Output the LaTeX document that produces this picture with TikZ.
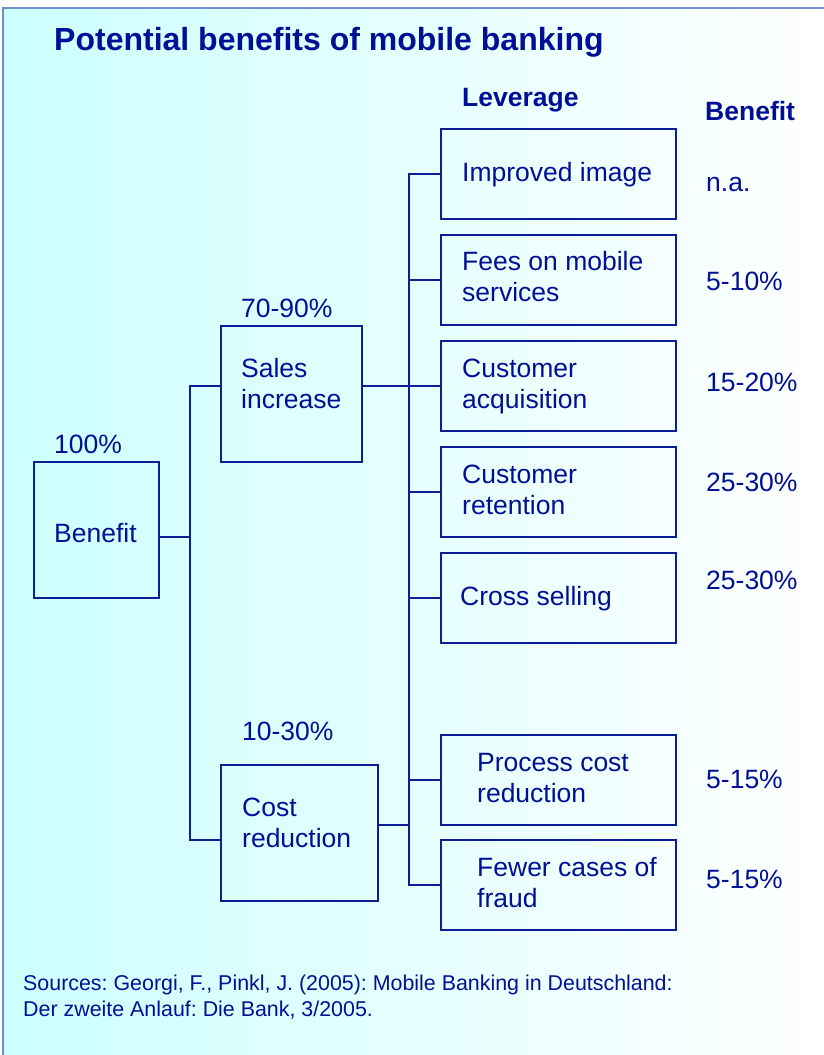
\documentclass[tikz,border=0pt]{standalone}
\usepackage{fontspec}
\setmainfont{Liberation Sans}
\frenchspacing
\definecolor{txtblue}{RGB}{0,16,150}
\definecolor{boxblue}{RGB}{12,30,150}
\definecolor{framecol}{RGB}{112,144,204}
\definecolor{bgcyan}{RGB}{204,255,255}
\newcommand\twol[2]{\begin{tabular}[t]{@{}l@{}}#1\\#2\end{tabular}}
\tikzset{
  box/.style={draw=boxblue, line width=2.2pt, inner sep=0pt, minimum height=#1},
  box/.default=90pt,
  txt/.style={anchor=base west, inner sep=0pt, text=txtblue, font=\fontsize{26.5}{31.5}\selectfont},
  hdr/.style={txt, font=\fontsize{26.5}{31.5}\selectfont\bfseries},
  conn/.style={draw=boxblue, line width=2.2pt, line join=miter}
}
\begin{document}
\begin{tikzpicture}[x=1pt,y=-1pt]
\useasboundingbox (0,0) rectangle (824,1055);
\fill[white] (0,0) rectangle (824,1055);
\shade[left color=bgcyan, right color=white] (3,8) rectangle (824,1055);
\draw[framecol, line width=2pt] (3,1055) -- (3,8) -- (824,8);

% title and headers
\node[txt, font=\fontsize{32}{38}\selectfont\bfseries] (title) at (54,50) {Potential benefits of mobile banking};
\node[hdr] (hlev) at (462,106) {Leverage};
\node[hdr] (hben) at (705,120) {Benefit};

% boxes
\node[box=136pt, minimum width=125pt] (benefit) at (96.5,530) {};
\node[box=136pt, minimum width=141pt] (sales) at (291.5,394) {};
\node[box=136pt, minimum width=157pt] (cost) at (299.5,833) {};
\node[box, minimum width=235pt] (image) at (558.5,174) {};
\node[box, minimum width=235pt] (fees) at (558.5,280) {};
\node[box, minimum width=235pt] (acq) at (558.5,386) {};
\node[box, minimum width=235pt] (ret) at (558.5,492) {};
\node[box, minimum width=235pt] (cross) at (558.5,598) {};
\node[box, minimum width=235pt] (proc) at (558.5,780) {};
\node[box, minimum width=235pt] (fraud) at (558.5,885) {};

% texts in boxes
\node[txt] (tben) at (54,542.5) {Benefit};
\node[txt] (tsales) at (241,377) {\twol{Sales}{increase}};
\node[txt] (tcost) at (242,816) {\twol{Cost}{reduction}};
\node[txt] (timage) at (462,181) {Improved image};
\node[txt] (tfees) at (462,270) {\twol{Fees on mobile}{services}};
\node[txt] (tacq) at (462,377) {\twol{Customer}{acquisition}};
\node[txt] (tret) at (462,483) {\twol{Customer}{retention}};
\node[txt] (tcross) at (460,605) {Cross selling};
\node[txt] (tproc) at (477,771) {\twol{Process cost}{reduction}};
\node[txt] (tfraud) at (477,876) {\twol{Fewer cases of}{fraud}};

% percentages above boxes
\node[txt] (p100) at (54,453) {100\%};
\node[txt] (p7090) at (241,317) {70-90\%};
\node[txt] (p1030) at (242,740) {10-30\%};

% benefit values
\node[txt] (v1) at (706,191.5) {n.a.};
\node[txt] (v2) at (706,290) {5-10\%};
\node[txt] (v3) at (706,391) {15-20\%};
\node[txt] (v4) at (706,491) {25-30\%};
\node[txt] (v5) at (706,589) {25-30\%};
\node[txt] (v6) at (706,788) {5-15\%};
\node[txt] (v7) at (706,888) {5-15\%};

% connectors
\coordinate (busA) at (190,0);
\coordinate (busB) at (409,0);
\coordinate (benout) at ([yshift=-7pt]benefit.east);
\coordinate (salesin) at ([yshift=8pt]sales.west);
\coordinate (costin) at ([yshift=-7pt]cost.west);
\coordinate (costout) at ([yshift=8pt]cost.east);
\draw[conn] (benout) -- (benout -| busA);
\draw[conn] (salesin) -- (salesin -| busA) -- (costin -| busA) -- (costin);
\draw[conn] (image.west) -- (image.west -| busB) -- (fraud.west -| busB) -- (fraud.west);
\draw[conn] (sales.east |- acq.west) -- (acq.west);
\draw[conn] (fees.west -| busB) -- (fees.west);
\draw[conn] (ret.west -| busB) -- (ret.west);
\draw[conn] (cross.west -| busB) -- (cross.west);
\draw[conn] (proc.west -| busB) -- (proc.west);
\draw[conn] (costout) -- (costout -| busB);

% sources
\node[txt, font=\fontsize{21.4}{26}\selectfont] (src) at (23,990) {\twol{Sources: Georgi, F., Pinkl, J. (2005): Mobile Banking in Deutschland:}{Der zweite Anlauf: Die Bank, 3/2005.}};
\end{tikzpicture}
\end{document}
